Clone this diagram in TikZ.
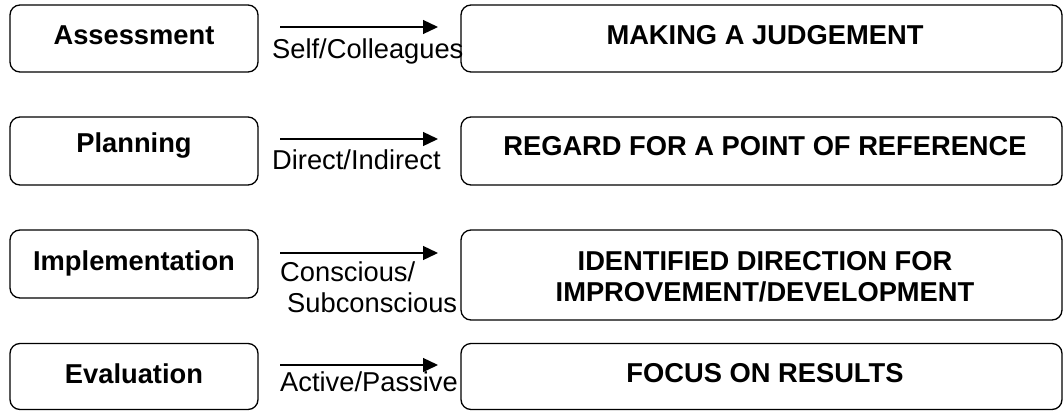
\documentclass[tikz,border=0pt]{standalone}
\usepackage{fontspec}
\setmainfont{Liberation Sans}
\usetikzlibrary{arrows.meta}
\begin{document}
\begin{tikzpicture}[x=1pt,y=-1pt,
  box/.style={draw, line width=1.3pt, rounded corners=10pt, inner sep=0pt},
  leftbox/.style={box, minimum width=248pt},
  rightbox/.style={box, minimum width=601pt},
  lefttext/.style={anchor=base, inner sep=0pt, font=\fontsize{27.3}{31}\selectfont\bfseries},
  righttext/.style={anchor=base, inner sep=0pt, align=center, font=\fontsize{27.3}{31}\selectfont\bfseries},
  lbl/.style={anchor=base west, inner sep=0pt, font=\fontsize{27.3}{31}\selectfont},
  arr/.style={line width=1.3pt, -{Triangle[length=15pt,width=14pt]}}]
\useasboundingbox (0,0) rectangle (1063,410);

% boxes
\node[leftbox, minimum height=67pt] (L1) at (134,38.5) {};
\node[rightbox, minimum height=67pt] (R1) at (761.5,38.5) {};
\node[leftbox, minimum height=68pt] (L2) at (134,151) {};
\node[rightbox, minimum height=68pt] (R2) at (761.5,151) {};
\node[leftbox, minimum height=68pt] (L3) at (134,264) {};
\node[rightbox, minimum height=90pt] (R3) at (761.5,275) {};
\node[leftbox, minimum height=66pt] (L4) at (134,376.5) {};
\node[rightbox, minimum height=66pt] (R4) at (761.5,376.5) {};

% texts
\node[lefttext] (T1) at (134,44) {Assessment};
\node[righttext] (U1) at (765,44) {MAKING A JUDGEMENT};
\node[lefttext] (T2) at (134,152) {Planning};
\node[righttext] (U2) at (765,155) {REGARD FOR A POINT OF REFERENCE};
\node[lefttext] (T3) at (134,270) {Implementation};
\node[righttext] (U3a) at (765,270) {IDENTIFIED DIRECTION FOR};
\node[righttext] (U3b) at (765,301) {IMPROVEMENT/DEVELOPMENT};
\node[lefttext] (T4) at (134,383) {Evaluation};
\node[righttext] (U4) at (765,382) {FOCUS ON RESULTS};

% arrows
\coordinate (A1s) at (280,27);  \coordinate (A1e) at (438,27);
\coordinate (A2s) at (280,139); \coordinate (A2e) at (438,139);
\coordinate (A3s) at (280,253); \coordinate (A3e) at (438,253);
\coordinate (A4s) at (280,365); \coordinate (A4e) at (438,365);
\draw[arr] (A1s) -- (A1e);
\draw[arr] (A2s) -- (A2e);
\draw[arr] (A3s) -- (A3e);
\draw[arr] (A4s) -- (A4e);

% labels
\node[lbl] (B1) at (272,58) {Self/Colleagues};
\node[lbl] (B2) at (272,169) {Direct/Indirect};
\node[lbl] (B3) at (280,281) {Conscious/};
\node[lbl] (B3b) at (287,312.5) {Subconscious};
\node[lbl] (B4) at (280,391) {Active/Passive};
\end{tikzpicture}
\end{document}
